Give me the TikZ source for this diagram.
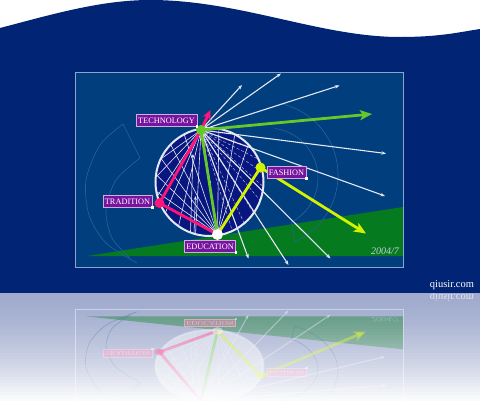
\documentclass[tikz,border=0pt]{standalone}
\usepackage{fontspec}
\setmainfont{Liberation Serif}
\usetikzlibrary{arrows.meta,calc}

\definecolor{navy}{RGB}{2,36,117}
\definecolor{panelbg}{RGB}{1,62,125}
\definecolor{panelline}{RGB}{140,165,205}
\definecolor{circfill}{RGB}{8,22,128}
\definecolor{grass}{RGB}{6,122,30}
\definecolor{techgreen}{RGB}{100,200,40}
\definecolor{tradpink}{RGB}{255,20,120}
\definecolor{fashyellow}{RGB}{210,242,0}
\definecolor{labpurple}{RGB}{118,20,160}
\definecolor{raywhite}{RGB}{228,232,242}
\definecolor{faintarc}{RGB}{40,100,150}
\definecolor{reflbase}{RGB}{160,171,206}

\tikzset{
  ray/.style={draw=raywhite, line width=1.1pt, -{Stealth[length=4.5pt,width=3.4pt]}},
  fanline/.style={draw=raywhite, line width=0.6pt},
  fandash/.style={draw=raywhite!75!circfill, line width=0.5pt, dash pattern=on 3pt off 2pt},
  thickline/.style={line width=2.8pt},
  bigtip/.style={-{Stealth[length=12pt,width=10pt,inset=3pt]}},
  dotnode/.style={circle, inner sep=0pt, minimum size=10pt},
  lab/.style={fill=labpurple, draw=white!65!labpurple, line width=0.6pt, text=white,
    font=\fontsize{8.3}{9}\selectfont, inner xsep=2pt, inner ysep=1pt, minimum height=11.5pt},
  faint/.style={draw=faintarc, line width=0.6pt},
}

\newcommand\drawcontent{%
  \fill[grass] (87,256) -- (403,207) -- (403,256) -- cycle;
  % faint ring outlines
  \draw[faint] plot[smooth] coordinates {(123,124) (100,145) (86,180) (89,215) (106,243) (137,263)};
  \draw[faint] (123,124) -- (140,158);
  \draw[faint] plot[smooth] coordinates {(140,158) (116,180) (106,210) (112,238) (130,258)};
  \draw[faint] ([shift={(-76:73)}]265,175) arc[start angle=-76, end angle=66, radius=73];
  \draw[faint] ([shift={(-82:50)}]268,178) arc[start angle=-82, end angle=62, radius=50];
  \draw[faint] ([shift={(66:73)}]265,175) -- ([shift={(62:50)}]268,178);
  % key points
  \coordinate (C) at (209.5,182);
  \coordinate (T) at (201,130);
  \coordinate (R) at (159.5,203);
  \coordinate (E) at (217.5,234.5);
  \coordinate (F) at (260.5,167.5);
  % sphere
  \fill[circfill] (C) circle[radius=54];
  \foreach \a in {105,125,145,165,185,205}
    \draw[fanline] (T) -- ($(C)+(\a:54)$);
  \foreach \a in {-40,-25,-10,5,20,35,50,65}
    \draw[fandash] (T) -- ($(C)+(\a:54)$);
  \foreach \a in {170,188,206,224,242,262,280,298,316}
    \draw[fanline] (E) -- ($(C)+(\a:54)$);
  \coordinate (ua1) at (190.5,232);
  \coordinate (ua1e) at (193,154);
  \coordinate (ua2) at (194,233);
  \coordinate (ua2e) at (195.5,196);
  \draw[fanline, -{Stealth[length=4pt,width=3pt]}] (ua1) -- (ua1e);
  \draw[fanline, -{Stealth[length=4pt,width=3pt]}] (ua2) -- (ua2e);
  \fill[raywhite] ($(C)+(-1.5,-1.5)$) rectangle ++(3,3);
  \draw[raywhite, line width=2pt] (C) circle[radius=54];
  % white rays
  \coordinate (w1) at (281,73.5);
  \coordinate (w2) at (242,85);
  \coordinate (w3) at (339.5,85.5);
  \coordinate (w4) at (386,153.5);
  \coordinate (w5) at (385,196);
  \coordinate (w6) at (248.5,258.5);
  \coordinate (w7) at (288.5,265);
  \coordinate (w8) at (330.5,258.5);
  \foreach \w in {w1,w2,w3,w4,w5,w6,w7,w8}
    \draw[ray] (T) -- (\w);
  % coloured paths
  \coordinate (pinkEnd) at (210.5,110);
  \coordinate (greenEnd) at (372,114);
  \coordinate (yellowEnd) at (366,233.5);
  \draw[tradpink, thickline, line join=round] (E) -- (R) -- (T);
  \draw[tradpink, thickline, -{Stealth[length=9pt,width=8pt,inset=2pt]}] (T) -- (pinkEnd);
  \draw[techgreen, thickline] (E) -- (T);
  \draw[techgreen, thickline, bigtip] (T) -- (greenEnd);
  \draw[fashyellow, thickline] (E) -- (F);
  \draw[fashyellow, thickline, bigtip] (F) -- (yellowEnd);
  % dots
  \node[dotnode, fill=techgreen] (Tdot) at (T) {};
  \node[dotnode, fill=tradpink] (Rdot) at (R) {};
  \node[dotnode, fill=white, minimum size=11pt] (Edot) at (E) {};
  \node[dotnode, fill=fashyellow] (Fdot) at (F) {};
  % labels
  \node[lab] (lT) at (166.5,120.5) {TECHNOLOGY};
  \node[lab] (lR) at (127.5,201.5) {TRADITION};
  \node[lab] (lE) at (210,246.5) {EDUCATION};
  \node[lab] (lF) at (286.5,172.5) {FASHION};
  \foreach \l in {lT,lR,lE,lF}
    \fill[white] ($(\l.south east)+(-1.3,-1.3)$) rectangle ++(2.6,2.6);
  \node[anchor=east, text=raywhite!85!panelbg, font=\itshape\fontsize{10}{10}\selectfont, inner sep=0pt] (yr) at (399,251) {2004/7};
}

\begin{document}
\begin{tikzpicture}[x=1pt,y=-1pt]
  \useasboundingbox (0,0) rectangle (480,410);
  \fill[white] (0,0) rectangle (480,410);
  % top wave
  \fill[navy] (0,28) .. controls (50,15) and (100,0) .. (150,0)
     .. controls (240,0) and (320,37) .. (400,37)
     .. controls (440,37) and (460,32) .. (480,29)
     -- (480,293) -- (0,293) -- cycle;
  % panel
  \fill[panelbg] (75,72) rectangle (403,267);
  \drawcontent
  \draw[panelline, line width=0.8pt] (75,72) rectangle (403,267);
  \node[text=white, font=\fontsize{10.5}{11}\selectfont, inner sep=0pt] (wm) at (452,285.5) {qiusir.com};
  % reflection
  \fill[reflbase] (0,293) rectangle (480,410);
  \begin{scope}
    \clip (0,293) rectangle (480,410);
    \begin{scope}[shift={(0,488)}, yscale=-0.67, transform shape, opacity=0.45]
      \colorlet{circfill}{white}
      \colorlet{labpurple}{tradpink!60!white}
      \drawcontent
      \draw[white, line width=0.8pt] (75,72) rectangle (403,267);
    \end{scope}
    \node[text=white, opacity=0.7, yscale=-1, font=\fontsize{10.5}{11}\selectfont, inner sep=0pt] (wmr) at (452,297) {qiusir.com};
    \foreach \i [evaluate=\i as \op using (\i/36)^1.5] in {0,...,36}
      \fill[white, opacity=\op] (0,293+\i*3) rectangle (480,296+\i*3);
    \fill[white] (0,404) rectangle (480,410);
  \end{scope}
\end{tikzpicture}
\end{document}
